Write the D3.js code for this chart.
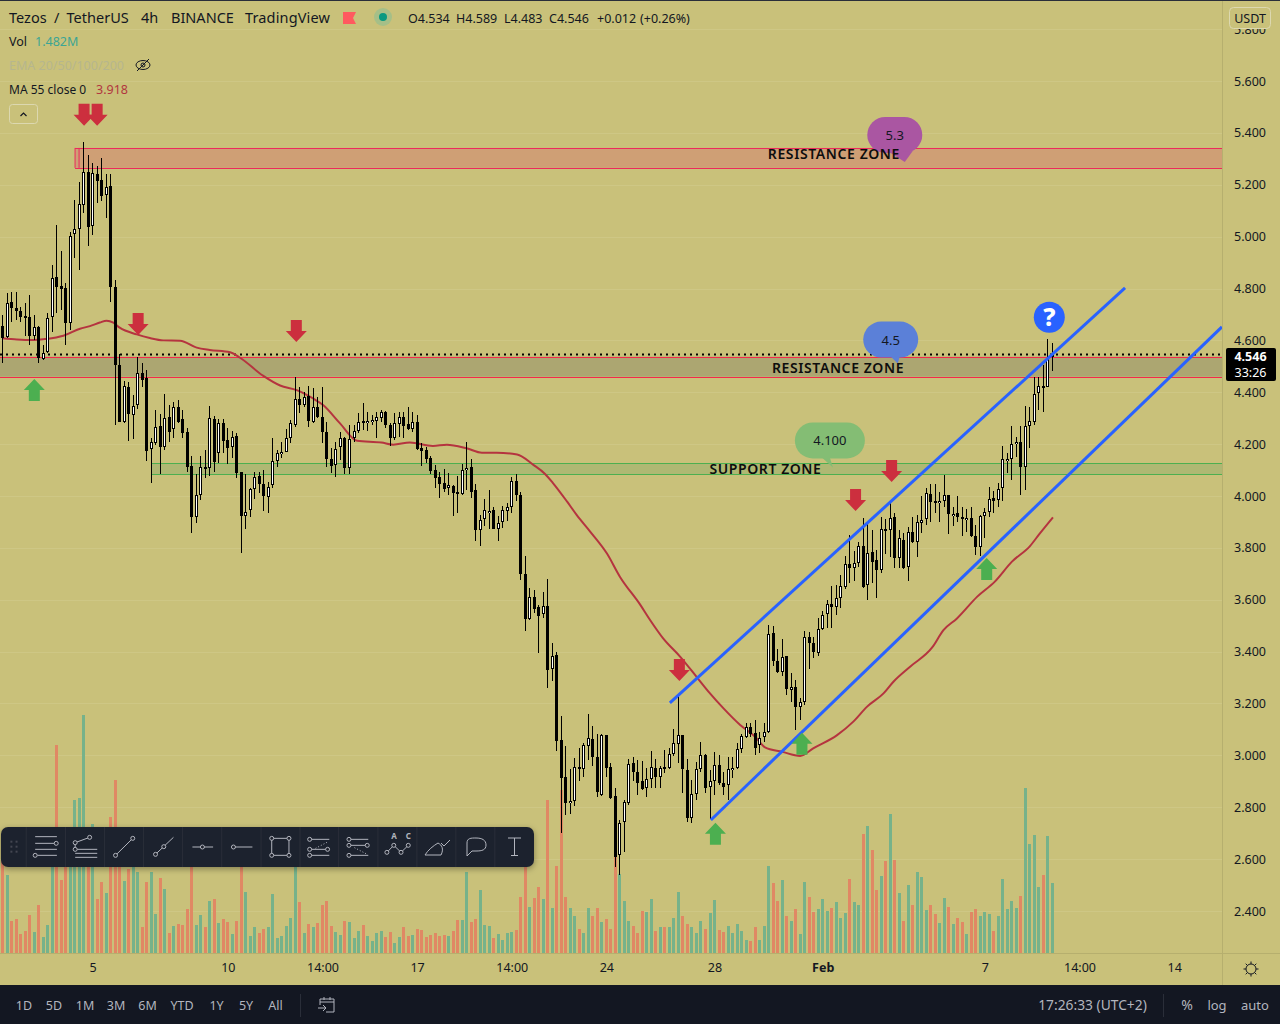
<!DOCTYPE html>
<html>
<head>
<meta charset="utf-8">
<script src="https://cdn.jsdelivr.net/npm/d3@7"></script>
<style>
  html, body { margin: 0; padding: 0; background: #c9c17a; overflow: hidden; }
  svg { display: block; }
  text { font-family: "Noto Sans", "Open Sans", sans-serif; }
</style>
</head>
<body>
<svg id="chart" width="1280" height="1024"></svg>
<script>
// candles, 4h bars
var opens = [4.655,4.612,4.747,4.725,4.712,4.694,4.689,4.618,4.650,4.527,
  4.554,4.689,4.843,4.810,4.801,4.666,5.009,5.028,5.121,5.248,
  5.042,5.241,5.218,5.159,5.195,4.804,4.504,4.287,4.420,4.311,
  4.350,4.474,4.455,4.180,4.203,4.270,4.188,4.303,4.257,4.342,
  4.296,4.245,4.116,3.918,4.003,4.111,4.107,4.296,4.167,4.280,
  4.215,4.188,4.231,4.091,3.923,3.945,4.026,4.077,4.045,3.997,
  4.041,4.136,4.165,4.171,4.222,4.274,4.373,4.352,4.387,4.287,
  4.342,4.303,4.248,4.141,4.120,4.188,4.222,4.109,4.225,4.252,
  4.289,4.280,4.289,4.291,4.302,4.323,4.274,4.225,4.277,4.306,
  4.277,4.259,4.287,4.184,4.178,4.145,4.100,4.072,4.049,4.029,
  4.038,4.016,4.007,4.099,4.111,4.022,3.867,3.910,3.940,3.945,
  3.874,3.899,3.944,3.957,4.057,4.004,3.700,3.525,3.610,3.571,
  3.544,3.576,3.332,3.387,3.060,2.916,2.816,2.823,2.954,2.947,
  3.037,3.062,2.995,2.849,3.078,2.954,2.844,2.614,2.742,2.816,
  2.970,2.935,2.901,2.873,2.908,2.950,2.918,2.954,2.950,3.004,
  3.042,3.077,2.943,2.760,2.850,2.949,3.001,2.877,2.902,2.963,
  2.892,2.886,2.946,2.950,3.023,3.072,3.108,3.085,3.039,3.069,
  3.091,3.470,3.365,3.323,3.383,3.251,3.265,3.185,3.207,3.457,
  3.432,3.396,3.486,3.544,3.582,3.573,3.605,3.650,3.736,3.721,
  3.740,3.808,3.657,3.783,3.754,3.713,3.872,3.867,3.918,3.760,
  3.831,3.728,3.860,3.822,3.895,3.910,4.008,3.979,3.972,3.979,
  4.003,3.921,3.934,3.918,3.913,3.914,3.844,3.805,3.922,3.937,
  3.991,3.985,4.030,4.139,4.142,4.200,4.207,4.111,4.268,4.287,
  4.396,4.423,4.422,4.534];
var highs = [4.698,4.783,4.785,4.785,4.727,4.743,4.775,4.698,4.655,4.582,
  4.704,4.891,5.045,4.945,4.820,5.016,5.141,5.212,5.363,5.315,
  5.282,5.272,5.302,5.241,5.241,4.833,4.547,4.443,4.441,4.389,
  4.537,4.511,4.486,4.222,4.332,4.315,4.392,4.351,4.364,4.370,
  4.332,4.261,4.154,4.084,4.154,4.177,4.347,4.308,4.296,4.296,
  4.261,4.251,4.242,4.094,4.085,4.032,4.094,4.094,4.100,4.055,
  4.222,4.177,4.210,4.258,4.293,4.458,4.422,4.402,4.424,4.415,
  4.383,4.419,4.284,4.184,4.210,4.248,4.226,4.274,4.274,4.319,
  4.357,4.323,4.313,4.325,4.332,4.329,4.280,4.319,4.323,4.325,
  4.342,4.323,4.313,4.203,4.187,4.154,4.120,4.094,4.103,4.088,
  4.043,4.077,4.122,4.207,4.142,4.045,3.927,3.987,4.023,3.959,
  3.921,3.962,3.972,4.072,4.084,4.017,3.769,3.644,3.638,3.580,
  3.629,3.679,3.432,3.398,3.150,3.037,2.947,2.989,3.028,3.049,
  3.159,3.114,3.083,3.081,3.079,2.972,2.873,2.751,2.828,2.985,
  2.993,2.983,2.978,2.950,3.017,2.986,2.960,3.021,3.030,3.100,
  3.229,3.078,2.986,2.905,2.976,3.050,3.004,2.943,3.012,3.001,
  2.937,2.995,2.992,3.046,3.081,3.126,3.123,3.136,3.091,3.126,
  3.502,3.500,3.410,3.448,3.384,3.316,3.290,3.220,3.478,3.474,
  3.457,3.528,3.556,3.599,3.654,3.657,3.694,3.768,3.848,3.788,
  3.821,3.914,3.901,3.869,3.792,3.918,3.910,3.972,3.934,3.869,
  3.856,3.882,3.918,3.927,4.000,4.030,4.045,4.047,4.017,4.081,
  4.004,3.959,4.000,3.959,3.949,3.957,3.889,3.927,3.953,4.036,
  4.020,4.052,4.191,4.165,4.268,4.229,4.268,4.347,4.342,4.460,
  4.460,4.505,4.606,4.589];
var lows = [4.511,4.608,4.672,4.679,4.672,4.618,4.582,4.601,4.514,4.524,
  4.550,4.634,4.704,4.717,4.582,4.640,4.919,4.871,5.090,4.965,
  5.006,5.131,5.139,5.073,4.749,4.274,4.285,4.280,4.213,4.220,
  4.334,4.422,4.136,4.051,4.197,4.084,4.177,4.210,4.222,4.280,
  4.222,4.094,3.859,3.895,3.985,4.068,4.078,4.094,4.126,4.165,
  4.123,4.145,4.071,3.782,3.874,3.920,3.990,4.010,3.942,3.936,
  4.032,4.113,4.145,4.170,4.203,4.267,4.319,4.344,4.267,4.283,
  4.299,4.203,4.113,4.087,4.075,4.139,4.084,4.085,4.210,4.242,
  4.255,4.251,4.274,4.223,4.287,4.261,4.193,4.216,4.229,4.223,
  4.255,4.248,4.178,4.117,4.129,4.085,4.032,3.994,4.017,4.004,
  3.924,3.936,4.002,4.023,3.991,3.828,3.809,3.885,3.874,3.872,
  3.827,3.878,3.905,3.936,3.982,3.676,3.481,3.523,3.548,3.396,
  3.531,3.258,3.288,3.015,2.700,2.771,2.773,2.805,2.903,2.918,
  2.983,2.959,2.841,2.844,2.918,2.831,2.571,2.539,2.629,2.809,
  2.903,2.848,2.866,2.841,2.873,2.873,2.875,2.933,2.948,2.997,
  2.972,2.854,2.744,2.738,2.828,2.935,2.856,2.753,2.847,2.886,
  2.847,2.828,2.914,2.949,3.010,3.066,3.072,3.001,3.010,3.053,
  3.085,3.344,3.316,3.306,3.233,3.207,3.098,3.136,3.194,3.333,
  3.374,3.384,3.485,3.490,3.492,3.541,3.570,3.640,3.663,3.672,
  3.727,3.644,3.599,3.664,3.608,3.702,3.776,3.763,3.724,3.722,
  3.720,3.674,3.818,3.763,3.859,3.889,3.901,3.934,3.901,3.959,
  3.854,3.885,3.901,3.844,3.863,3.842,3.773,3.767,3.837,3.918,
  3.936,3.959,3.982,4.090,4.060,4.152,4.004,4.024,4.184,4.274,
  4.332,4.322,4.420,4.483];
var closes = [4.608,4.743,4.724,4.715,4.691,4.688,4.618,4.650,4.531,4.550,
  4.685,4.842,4.807,4.799,4.666,5.004,5.028,5.124,5.248,5.038,
  5.244,5.216,5.158,5.190,4.804,4.505,4.287,4.423,4.315,4.346,
  4.473,4.449,4.175,4.207,4.265,4.190,4.299,4.248,4.342,4.287,
  4.244,4.113,3.920,4.003,4.111,4.104,4.299,4.132,4.280,4.213,
  4.186,4.226,4.090,3.924,3.940,4.026,4.075,4.046,4.001,4.036,
  4.136,4.165,4.170,4.225,4.280,4.373,4.352,4.380,4.289,4.342,
  4.306,4.248,4.141,4.117,4.181,4.222,4.109,4.219,4.252,4.284,
  4.280,4.291,4.293,4.304,4.323,4.274,4.225,4.280,4.306,4.271,
  4.259,4.287,4.181,4.174,4.144,4.098,4.071,4.048,4.027,4.041,
  4.013,4.009,4.100,4.109,4.017,3.867,3.906,3.945,3.942,3.874,
  3.897,3.945,3.957,4.057,4.002,3.698,3.525,3.610,3.566,3.539,
  3.574,3.329,3.382,3.057,2.911,2.816,2.823,2.954,2.949,3.039,
  3.066,2.995,2.857,3.078,2.953,2.836,2.610,2.738,2.819,2.966,
  2.935,2.895,2.870,2.908,2.954,2.918,2.950,2.947,3.004,3.046,
  3.077,2.946,2.760,2.850,2.946,3.000,2.875,2.900,2.963,2.892,
  2.879,2.947,2.950,3.023,3.075,3.111,3.081,3.030,3.066,3.091,
  3.468,3.365,3.323,3.380,3.254,3.265,3.185,3.207,3.457,3.432,
  3.397,3.486,3.540,3.585,3.573,3.605,3.653,3.736,3.721,3.740,
  3.808,3.651,3.779,3.747,3.713,3.872,3.867,3.914,3.760,3.837,
  3.722,3.860,3.822,3.899,3.908,4.011,3.975,3.972,3.981,4.003,
  3.930,3.931,3.918,3.916,3.916,3.844,3.805,3.923,3.937,3.988,
  3.981,4.026,4.142,4.143,4.200,4.207,4.113,4.270,4.290,4.392,
  4.423,4.418,4.531,4.546];
// volume in millions
var volumes = [2.35,1.78,.73,.78,.44,.51,.87,.48,1.08,.37,
  .64,2.1,4.73,1.67,2.2,2.1,3.48,3.53,5.42,2.4,
  2.94,1.23,1.62,1.37,3.08,3.94,2.5,1.64,1.92,2.1,
  1.85,.60,1.62,1.83,.89,1.71,1.46,.46,.62,.67,
  .64,1.01,2.2,.64,.87,.58,1.19,1.23,.69,.78,
  .71,.44,.73,2.5,1.39,.39,.58,.46,.55,.60,
  1.33,.33,.39,.62,.80,2.1,1.17,.46,.67,.60,
  .69,1.10,1.19,.62,.48,.42,.73,.71,.33,.51,
  .64,.39,.28,.46,.51,.37,.48,.23,.37,.58,
  .39,.42,.55,.53,.37,.42,.46,.39,.42,.39,
  .51,.76,.76,1.83,.71,.78,1.44,.64,.62,.35,
  .44,.30,.46,.48,.53,1.28,2.4,1.05,1.25,1.5,
  1.23,3.48,1.03,1.98,3.71,1.28,1.03,.85,.55,.46,
  1.03,.83,1.03,.71,.78,.55,2.58,1.79,1.19,.73,
  .62,.46,.96,.94,1.23,.51,.58,.60,.58,.80,
  1.39,.83,.67,.60,.46,.73,.55,.92,1.21,.53,
  .48,.62,.46,.67,.51,.30,.28,.60,.30,.62,
  1.98,1.60,1.19,1.67,.85,.73,1.01,.44,1.62,1.28,
  .94,1.01,1.23,.96,1.03,1.17,.80,.92,1.69,1.17,
  1.10,2.71,2.89,2.33,1.44,1.76,2.10,3.17,2.12,1.37,
  .73,1.55,1.10,1.85,1.73,.98,1.10,.89,.69,1.26,
  1.05,.67,.80,.71,.44,.94,1.01,.83,.94,.89,
  .51,.85,1.69,1.01,1.19,1.03,1.30,3.76,2.48,2.69,
  1.51,1.78,2.67,1.58];

// MA 55, read at the bends only
var maBars = [0,3.2,7,9.4,13.5,17.2,19.4,21.6,23.1,24.6,26,29.8,32.7,35.7,39.4,43.1,46,50.5,52.7,57.8,61.6,65.3,68.9,71.2,74.9,
  78.7,84.1,86.7,90.4,95.5,98.6,103,106.4,109.7,114.2,117.8,120.4,122.2,125.3,127.4,130.4,134.1,137,141.5,
  143.7,146.6,150.4,154.1,157,160,163.7,167,169.2,173,177,179.9,185.2,188.8,191.8,195.5,197.7,201.4,206.3,208.8,211.8,216.3,220.2,224,228,230.2,233.1];
var maValues = [4.608,4.603,4.601,4.605,4.618,4.645,4.655,4.669,4.676,4.668,4.649,4.623,4.609,4.600,4.599,4.572,4.563,4.554,4.533,4.464,4.426,4.408,4.376,4.350,4.280,
  4.213,4.206,4.198,4.206,4.193,4.198,4.184,4.167,4.167,4.160,4.120,4.085,4.049,3.978,3.927,3.863,3.779,3.689,3.581,
  3.522,3.451,3.380,3.301,3.239,3.181,3.117,3.072,3.031,3.014,2.998,3.027,3.078,3.130,3.187,3.239,3.284,3.342,3.416,3.483,3.528,3.612,3.670,3.747,3.807,3.856,3.918];

var priceTicks = [2.4,2.6,2.8,3.0,3.2,3.4,3.6,3.8,4.0,4.2,4.4,4.6,4.8,5.0,5.2,5.4,5.6,5.8];
var timeTicks = [20,50,71,92,113,134,158,182,218,239,260];
var timeLabels = ["5","10","14:00","17","14:00","24","28","Feb","7","14:00","14"];

var zoneTops = [5.342,4.537,4.126];
var zoneBottoms = [5.265,4.460,4.084];
var zoneStarts = [16.1,-1,33.1];
var zoneFills = ["#cf9f75","#aca671","#afb873"];
var zoneLines = ["#ec2a5c","#f5294a","#4caf50"];
var zoneNames = ["RESISTANCE ZONE","RESISTANCE ZONE","SUPPORT ZONE"];
var zoneNameBars = [184.5,185.4,169.3];
var zoneNamePrices = [5.322,4.497,4.107];

var bubbleTexts = ["5.3","4.5","4.100"];
var bubbleBars = [198,197.1,183.6];
var bubblePrices = [5.392,4.603,4.214];
var bubbleWidths = [55,55,70];
var bubbleFills = ["#aa56a2","#5b80d8","#84bd74"];

var downArrowBars = [18.1,21,30.1,65.2,150.2,189.3,197.3];
var downArrowPrices = [5.427,5.427,4.621,4.594,3.287,3.942,4.054];
var upArrowBars = [7.06,158.2,177.4,218.4];
var upArrowPrices = [4.451,2.740,3.087,3.761];

// channel lines, start bar/price then end bar/price
var channelBars = [[148.1,249.1],[157.2,270.6]];
var channelPrices = [[3.202,4.802],[2.751,4.652]];

var lastPrice = 4.546;

var bg = "#c9c17a", ink = "#131722";
var svg = d3.select("#chart");
var chartW = 1222, chartH = 953;

var x = d3.scaleLinear().domain([0, 233]).range([2.5, 1052.5]);
var y = d3.scaleLinear().domain([2.4, 5.6]).range([911, 81]);
// volume pane shares the chart, 44px for a million
var yVol = d3.scaleLinear().domain([0, 1]).range([chartH, chartH - 44]);

svg.append("rect").attr("width", 1280).attr("height", 1024).attr("fill", bg);
svg.append("defs").append("clipPath").attr("id", "plot")
  .append("rect").attr("width", chartW).attr("height", chartH);

var plot = svg.append("g").attr("clip-path", "url(#plot)");

// faint grid
plot.append("g").selectAll("line").data(priceTicks).join("line")
  .attr("x1", 0).attr("x2", chartW)
  .attr("y1", function (d) { return Math.round(y(d)) + 0.5; })
  .attr("y2", function (d) { return Math.round(y(d)) + 0.5; })
  .attr("stroke", "#cec785").attr("stroke-width", 1);

var bars = d3.range(opens.length);
var col = function (i) { return Math.floor(x(i)); };
var isUp = function (i) { return closes[i] >= opens[i]; };

plot.append("g").selectAll("rect").data(bars).join("rect")
  .attr("shape-rendering", "crispEdges")
  .attr("x", function (i) { return col(i) - 1; })
  .attr("width", 3)
  .attr("y", function (i) { return yVol(volumes[i]); })
  .attr("height", function (i) { return chartH - yVol(volumes[i]); })
  .attr("fill", function (i) { return isUp(i) ? "#76b28a" : "#e08864"; });

// zones
var zones = plot.append("g");
zoneTops.forEach(function (top, k) {
  var x0 = x(zoneStarts[k]);
  zones.append("rect")
    .attr("x", x0).attr("width", chartW - x0)
    .attr("y", y(top)).attr("height", y(zoneBottoms[k]) - y(top))
    .attr("fill", zoneFills[k]);
  [top, zoneBottoms[k]].forEach(function (p) {
    zones.append("line").attr("x1", x0).attr("x2", chartW)
      .attr("y1", Math.round(y(p)) + 0.5).attr("y2", Math.round(y(p)) + 0.5)
      .attr("stroke", zoneLines[k]).attr("stroke-width", 1);
  });
  if (k == 0) {
    [x0, x0 + 4].forEach(function (vx) {
      zones.append("line").attr("x1", vx).attr("x2", vx)
        .attr("y1", y(top)).attr("y2", y(zoneBottoms[k]))
        .attr("stroke", zoneLines[k]).attr("stroke-width", 1);
    });
  }
});

// price line
plot.append("line").attr("x1", 0).attr("x2", chartW)
  .attr("y1", Math.round(y(lastPrice)) + 0.5).attr("y2", Math.round(y(lastPrice)) + 0.5)
  .attr("stroke", "#000").attr("stroke-width", 2).attr("stroke-dasharray", "2 4");

// moving average
plot.append("path")
  .attr("d", d3.line()
    .curve(d3.curveMonotoneX)
    .x(function (d, k) { return x(maBars[k]); })
    .y(function (d) { return y(d); })(maValues))
  .attr("fill", "none").attr("stroke", "#b5343f").attr("stroke-width", 2)
  .attr("stroke-linejoin", "round");

// candles
var candles = plot.append("g").attr("shape-rendering", "crispEdges");
candles.selectAll(".wick").data(bars).join("rect").attr("class", "wick")
  .attr("x", col).attr("width", 1)
  .attr("y", function (i) { return Math.round(y(highs[i])); })
  .attr("height", function (i) { return Math.round(y(lows[i])) - Math.round(y(highs[i])); })
  .attr("fill", "#000");
candles.selectAll(".body").data(bars).join("rect").attr("class", "body")
  .attr("x", function (i) { return col(i) - 1; }).attr("width", 3)
  .attr("y", function (i) { return Math.round(y(Math.max(opens[i], closes[i]))); })
  .attr("height", function (i) {
    return Math.max(2, Math.round(y(Math.min(opens[i], closes[i]))) - Math.round(y(Math.max(opens[i], closes[i]))));
  })
  .attr("fill", "#000");
candles.selectAll(".hollow").data(bars.filter(isUp)).join("rect").attr("class", "hollow")
  .attr("x", col).attr("width", 1)
  .attr("y", function (i) { return Math.round(y(closes[i])) + 1; })
  .attr("height", function (i) { return Math.max(1, Math.round(y(opens[i])) - Math.round(y(closes[i])) - 2); })
  .attr("fill", "#fff");

// bubbles
var bubbles = plot.append("g");
var bubbleTails = [[[-4,18],[18,16],[10,27]], [[0,17],[9,17],[7,24]], [[-8,17],[0,17],[3,27]]];
bubbleTexts.forEach(function (t, k) {
  var cx = x(bubbleBars[k]), cy = y(bubblePrices[k]), w = bubbleWidths[k];
  bubbles.append("rect").attr("x", cx - w / 2).attr("y", cy - 18)
    .attr("width", w).attr("height", 36).attr("rx", 18).attr("fill", bubbleFills[k]);
  bubbles.append("polygon")
    .attr("points", bubbleTails[k].map(function (p) { return (cx + p[0]) + "," + (cy + p[1]); }).join(" "))
    .attr("fill", bubbleFills[k]);
  bubbles.append("text").attr("x", cx).attr("y", cy + 5).attr("text-anchor", "middle")
    .attr("font-size", 13).attr("fill", ink).text(t);
});

zoneNames.forEach(function (t, k) {
  plot.append("text").attr("x", x(zoneNameBars[k])).attr("y", y(zoneNamePrices[k]) + 5.5)
    .attr("text-anchor", "middle").attr("font-size", 14).attr("font-weight", 600)
    .attr("letter-spacing", 0.6).attr("fill", "#0d0d0d").text(t);
});

// channel
channelBars.forEach(function (b, k) {
  plot.append("line")
    .attr("x1", x(b[0])).attr("x2", x(b[1]))
    .attr("y1", y(channelPrices[k][0])).attr("y2", y(channelPrices[k][1]))
    .attr("stroke", "#2962ff").attr("stroke-width", 3);
});

// arrows, tip on the value
function arrow(g, bar, price, dir, fill) {
  var cx = x(bar), tip = y(price);
  var pts = [[0,0],[10.5,-11],[5.5,-11],[5.5,-22],[-5.5,-22],[-5.5,-11],[-10.5,-11]];
  g.append("polygon")
    .attr("points", pts.map(function (p) { return (cx + p[0]) + "," + (tip + p[1] * dir); }).join(" "))
    .attr("fill", fill);
}
var arrows = plot.append("g");
downArrowBars.forEach(function (b, k) { arrow(arrows, b, downArrowPrices[k], 1, "#cc2f3e"); });
upArrowBars.forEach(function (b, k) { arrow(arrows, b, upArrowPrices[k], -1, "#4caf50"); });

// question mark
plot.append("circle").attr("cx", 1049.3).attr("cy", 317.3).attr("r", 15.5).attr("fill", "#2962ff");
plot.append("text").attr("x", 1049.3).attr("y", 326).attr("text-anchor", "middle")
  .attr("font-size", 25).attr("font-weight", 800).attr("fill", "#fff").text("?");

// right and bottom panes
svg.append("line").attr("x1", chartW + 0.5).attr("x2", chartW + 0.5).attr("y1", 0).attr("y2", 985)
  .attr("stroke", "#b6af6e");
svg.append("line").attr("x1", 0).attr("x2", 1280).attr("y1", chartH + 0.5).attr("y2", chartH + 0.5)
  .attr("stroke", "#b6af6e");

var priceAxis = d3.axisRight(y).tickValues(priceTicks).tickSize(0).tickPadding(0)
  .tickFormat(d3.format(".3f"));
var pa = svg.append("g").attr("transform", "translate(1234,0)").call(priceAxis);
pa.select(".domain").remove();
pa.selectAll("text").attr("font-size", 12.5).attr("fill", ink)
  .style("font-family", '"Noto Sans", sans-serif');

var timeAxis = d3.axisBottom(x).tickValues(timeTicks).tickSize(0).tickPadding(0)
  .tickFormat(function (d, k) { return timeLabels[k]; });
var ta = svg.append("g").attr("transform", "translate(0,963)").call(timeAxis);
ta.select(".domain").remove();
ta.selectAll("text").attr("font-size", 12.5).attr("fill", ink)
  .attr("font-weight", function (d, k) { return timeLabels[k] == "Feb" ? 700 : 400; })
  .style("font-family", '"Noto Sans", sans-serif');

// USDT box, the 5.800 label slides under it as in the original
svg.append("rect").attr("x", 1229.5).attr("y", 7.5).attr("width", 41).attr("height", 21).attr("rx", 4)
  .attr("fill", bg).attr("stroke", "#dcd8b0");
svg.append("text").attr("x", 1250).attr("y", 22.5).attr("text-anchor", "middle")
  .attr("font-size", 12.5).attr("fill", ink).text("USDT");

// last price badge
svg.append("rect").attr("x", 1226).attr("y", 348).attr("width", 50).attr("height", 33).attr("rx", 2).attr("fill", "#000");
svg.append("text").attr("x", 1250.5).attr("y", 361).attr("text-anchor", "middle")
  .attr("font-size", 12.5).attr("font-weight", 700).attr("fill", "#fff").text(d3.format(".3f")(lastPrice));
svg.append("text").attr("x", 1250.5).attr("y", 377).attr("text-anchor", "middle")
  .attr("font-size", 12.5).attr("fill", "#fff").text("33:26");

// gear
var gear = svg.append("g").attr("transform", "translate(1251,969)").attr("stroke", ink).attr("fill", "none");
gear.append("circle").attr("r", 5);
d3.range(8).forEach(function (k) {
  var a = k * Math.PI / 4;
  gear.append("line").attr("x1", 5 * Math.cos(a)).attr("y1", 5 * Math.sin(a))
    .attr("x2", 7.5 * Math.cos(a)).attr("y2", 7.5 * Math.sin(a));
});

// legend
function label(tx, ty, s, size, fill) {
  return svg.append("text").attr("x", tx).attr("y", ty).attr("font-size", size).attr("fill", fill || ink).text(s);
}
label(9, 23, "Tezos / TetherUS", 14.5).attr("word-spacing", 3.5);
label(141, 23, "4h", 14.5);
label(171, 23, "BINANCE", 14.5);
label(245, 23, "TradingView", 14.5).attr("letter-spacing", 0.15);
svg.append("polygon").attr("points", "343,12 356,12 353,18 356,24 343,24").attr("fill", "#ff5a5f");
svg.append("circle").attr("cx", 383).attr("cy", 17).attr("r", 9).attr("fill", "#a5bf88");
svg.append("circle").attr("cx", 383).attr("cy", 17).attr("r", 4).attr("fill", "#089981");
[[408,"O4.534"],[456,"H4.589"],[504,"L4.483"],[549,"C4.546"],[597,"+0.012"],[640,"(+0.26%)"]].forEach(function (d) {
  label(d[0], 23, d[1], 12.5);
});
label(9, 46, "Vol", 12.5);
label(35, 46, "1.482M", 12.5, "#3ba594");
label(9, 70, "EMA 20/50/100/200", 12.5, "#b6b68e");
var eye = svg.append("g").attr("transform", "translate(143,65)").attr("fill", "none").attr("stroke", ink);
eye.append("ellipse").attr("rx", 7).attr("ry", 4.5);
eye.append("circle").attr("r", 2);
eye.append("line").attr("x1", -6).attr("y1", 6).attr("x2", 6).attr("y2", -6);
label(9, 94, "MA 55 close 0", 12);
label(96, 94, "3.918", 12.5, "#b2363f");
svg.append("rect").attr("x", 9.5).attr("y", 104.5).attr("width", 28).attr("height", 19).attr("rx", 3)
  .attr("fill", "none").attr("stroke", "#dcd8b0");
svg.append("path").attr("d", "M20.5 116 L23.5 113 L26.5 116").attr("fill", "none").attr("stroke", ink).attr("stroke-width", 1.2);

// bottom bar
svg.append("rect").attr("y", 985).attr("width", 1280).attr("height", 39).attr("fill", ink);
svg.append("rect").attr("y", 0).attr("width", 1280).attr("height", 1).attr("fill", "#2a2e39");
var rangeNames = ["1D","5D","1M","3M","6M","YTD","1Y","5Y","All"];
var rangeX = [24,54,85,116,147.5,182,216.5,246,275.5];
rangeNames.forEach(function (t, k) {
  label(rangeX[k], 1010, t, 12.5, "#b2b5be").attr("text-anchor", "middle");
});
svg.append("line").attr("x1", 300.5).attr("x2", 300.5).attr("y1", 994).attr("y2", 1017).attr("stroke", "#2a2e39");
var cal = svg.append("g").attr("fill", "none").attr("stroke", "#b2b5be");
cal.append("path").attr("d", "M320 1005 V999 H334 V1012 H326 M320 1002 H334 M324 997 V1000 M330 997 V1000 M318 1008 H325 M323 1005 L326 1008 L323 1011");
label(1092.5, 1010, "17:26:33 (UTC+2)", 13.8, "#b2b5be").attr("text-anchor", "middle");
svg.append("line").attr("x1", 1163.5).attr("x2", 1163.5).attr("y1", 994).attr("y2", 1017).attr("stroke", "#2a2e39");
label(1187, 1010, "%", 14, "#b2b5be").attr("text-anchor", "middle");
label(1217, 1010, "log", 13, "#b2b5be").attr("text-anchor", "middle");
label(1255, 1010, "auto", 13, "#b2b5be").attr("text-anchor", "middle");

// drawing toolbar, coordinates measured in the zoomed crop
var tx = function (v) { return v / 2.9; }, ty = function (v) { return 700 + v / 3; };
var filter = svg.append("defs").append("filter").attr("id", "shadow")
  .attr("x", "-5%").attr("y", "-30%").attr("width", "110%").attr("height", "170%");
filter.append("feDropShadow").attr("dx", 0).attr("dy", 2).attr("stdDeviation", 3)
  .attr("flood-color", "#000").attr("flood-opacity", 0.35);
svg.append("rect").attr("x", 1).attr("y", 827).attr("width", 533).attr("height", 40).attr("rx", 7)
  .attr("fill", "#1e222d").attr("filter", "url(#shadow)");
[76,190,303,416,529,643,757,870,982,1096,1209,1322,1435].forEach(function (v) {
  svg.append("line").attr("x1", tx(v)).attr("x2", tx(v)).attr("y1", 827).attr("y2", 867).attr("stroke", "#2a2e39");
});
var tools = svg.append("g").attr("fill", "none").attr("stroke", "#b2b5be").attr("stroke-width", 1);
[33,48].forEach(function (a) {
  [425,440,455].forEach(function (b) {
    svg.append("rect").attr("x", tx(a) - 1).attr("y", ty(b) - 1).attr("width", 2).attr("height", 2).attr("fill", "#434651");
  });
});
function seg(a, b, c, d) {
  return tools.append("line").attr("x1", tx(a)).attr("y1", ty(b)).attr("x2", tx(c)).attr("y2", ty(d));
}
function knob(a, b) {
  tools.append("circle").attr("cx", tx(a)).attr("cy", ty(b)).attr("r", 2).attr("fill", "#1e222d");
}
// parallel lines
seg(102,410,165,410); seg(102,430,160,430); seg(102,448,165,448); seg(108,466,165,466); knob(163,430); knob(102,466);
// pitchfork
seg(218,448,282,448); seg(218,460,282,460); seg(218,472,282,472); seg(218,428,260,412); seg(218,428,218,448); knob(218,428); knob(218,448); knob(260,412);
// trend line
seg(335,466,385,415); knob(335,466); knob(385,415);
// ray
seg(451,463,503,412); knob(451,463); knob(475,440);
seg(558,441,618,441); knob(587,441);
seg(677,441,732,441); knob(677,441);
// rectangle
seg(788,415,838,415); seg(838,415,838,466); seg(838,466,788,466); seg(788,466,788,415);
knob(788,415); knob(838,415); knob(788,466); knob(838,466);
// fib type tools, with the dotted diagonals
seg(898,418,955,418); seg(898,448,950,448); seg(898,466,955,466); seg(915,445,952,425).attr("stroke-dasharray", "1 2");
knob(898,418); knob(898,448); knob(898,466); knob(950,448);
seg(1012,418,1068,418); seg(1012,436,1065,436); seg(1012,466,1068,466); seg(1028,443,1065,463).attr("stroke-dasharray", "1 2");
knob(1012,418); knob(1012,436); knob(1012,466); knob(1065,436);
// abc
seg(1122,457,1142,436); seg(1142,436,1163,457); seg(1163,457,1184,436); knob(1122,457); knob(1142,436); knob(1163,457); knob(1184,436);
svg.append("text").attr("x", tx(1143)).attr("y", ty(418)).attr("text-anchor", "middle").attr("font-size", 8).attr("font-weight", 700).attr("fill", "#b2b5be").text("A");
svg.append("text").attr("x", tx(1184)).attr("y", ty(418)).attr("text-anchor", "middle").attr("font-size", 8).attr("font-weight", 700).attr("fill", "#b2b5be").text("C");
// brush, comment, text
tools.append("path").attr("d", "M425 855 H441 C444 849 442 845 438 843 C433 846 428 850 425 855 Z M441 843 L444 846 L450 840");
tools.append("path").attr("d", "M467 856 L467 843 C467 838 471 838 476 838 C482 838 486 840 486 845 C486 850 482 851 476 851 L472 851 Z");
tools.append("path").attr("d", "M508 838 H521 M514.5 838 V855 M511 855.5 H518");
</script>
</body>
</html>
